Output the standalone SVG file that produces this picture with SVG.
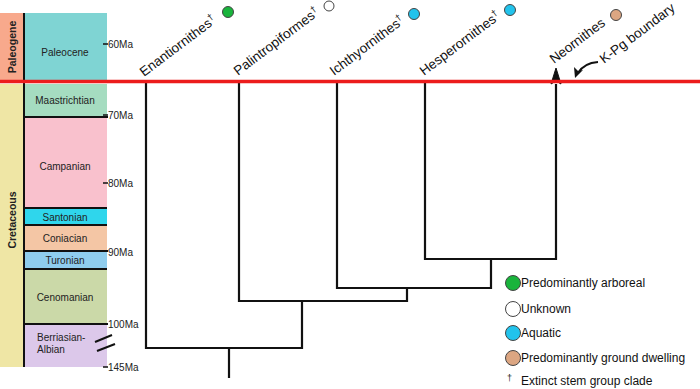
<svg xmlns="http://www.w3.org/2000/svg" width="700" height="389" viewBox="0 0 700 389">
<defs>
<style>
text{font-family:"Liberation Sans",Arial,sans-serif;fill:#222}
.st{font-size:10px;text-anchor:middle}
.stl{font-size:10px}
.ma{font-size:10px}
.per{font-size:10.5px;font-weight:bold;text-anchor:middle}
.tax{font-size:13.5px;fill:#111}
.leg{font-size:12px;fill:#111}
.sep{stroke:#111;stroke-width:2}
.tree{fill:none;stroke:#111;stroke-width:2.2}
.dot{stroke:#444;stroke-width:1}
</style>
<marker id="ah" viewBox="0 0 10 10" refX="9" refY="5" markerWidth="5" markerHeight="5" orient="auto" markerUnits="strokeWidth">
<path d="M0,0 L10,5 L0,10 L3,5 z" fill="#111"/>
</marker>
</defs>
<rect width="700" height="389" fill="#fff"/>

<g id="timescale">
<g id="periods">
<rect x="0" y="13" width="24" height="67" fill="#f8a98c"/>
<text class="per" transform="translate(16,47) rotate(-90)">Paleogene</text>
<rect x="0" y="84" width="24" height="283" fill="#efe6a5"/>
<text class="per" transform="translate(16,220) rotate(-90)">Cretaceous</text>
</g>
<g id="stages">
<rect x="25" y="13" width="82" height="67" fill="#7fd4d3"/>
<text class="st" x="65" y="56">Paleocene</text>
<rect x="25" y="84" width="82" height="33" fill="#a5dcc0"/>
<text class="st" x="65" y="104">Maastrichtian</text>
<rect x="25" y="118" width="82" height="90" fill="#f9c1cd"/>
<text class="st" x="65" y="170">Campanian</text>
<rect x="25" y="208" width="82" height="17" fill="#2fd6ec"/>
<text class="st" x="65" y="221">Santonian</text>
<rect x="25" y="225" width="82" height="26" fill="#f4c6a5"/>
<text class="st" x="65" y="242">Coniacian</text>
<rect x="25" y="251" width="82" height="18" fill="#8fcdee"/>
<text class="st" x="65" y="264">Turonian</text>
<rect x="25" y="269" width="82" height="55" fill="#cbd9a8"/>
<text class="st" x="65" y="301">Cenomanian</text>
<rect x="25" y="324" width="82" height="43" fill="#dcc8ea"/>
<text class="stl" x="37" y="341">Berriasian-</text>
<text class="stl" x="37" y="353">Albian</text>
</g>
<line class="sep" x1="24" y1="13" x2="24" y2="367"/>
<line class="sep" x1="25" y1="117" x2="108" y2="117"/>
<line class="sep" x1="25" y1="208" x2="107" y2="208"/>
<line class="sep" x1="25" y1="225" x2="107" y2="225"/>
<line class="sep" x1="25" y1="251" x2="108" y2="251"/>
<line class="sep" x1="25" y1="269" x2="107" y2="269"/>
<line class="sep" x1="25" y1="324" x2="108" y2="324"/>
<g id="ticks" stroke="#111" stroke-width="1.5">
<line x1="103" y1="44" x2="108" y2="44"/>
<line x1="103" y1="115" x2="108" y2="115"/>
<line x1="103" y1="183" x2="108" y2="183"/>
<line x1="103" y1="367" x2="108" y2="367"/>
</g>
<text class="ma" x="108" y="48">60Ma</text>
<text class="ma" x="108" y="119">70Ma</text>
<text class="ma" x="108" y="187">80Ma</text>
<text class="ma" x="108" y="256">90Ma</text>
<text class="ma" x="108" y="328">100Ma</text>
<text class="ma" x="108" y="371">145Ma</text>
<g id="break" stroke="#111" stroke-width="2">
<line x1="95" y1="342" x2="112" y2="335"/>
<line x1="97" y1="351" x2="115" y2="344"/>
</g>
</g>

<g id="connectors">
<path class="tree" d="M146,83 V348 H302 V301"/>
<path class="tree" d="M229,348 V378"/>
<path class="tree" d="M239,83 V301 H407 V288"/>
<path class="tree" d="M337,83 V288 H491 V259"/>
<path class="tree" d="M425,83 V259 H556 V84"/>
<path d="M556,68 L561,84 L556,81 L551,84 Z" fill="#111" stroke="#111" stroke-width="1"/>
<path d="M598,62 Q584,63 578,73" fill="none" stroke="#111" stroke-width="2.2"/>
<path d="M575,78 L574,67 L578,71 L583,70 Z" fill="#111"/>
</g>

<line id="kpg-line" x1="0" y1="81.5" x2="700" y2="81.5" stroke="#ec1c1c" stroke-width="3.5"/>

<g id="enantiornithes">
<text class="tax" transform="translate(144,77) rotate(-37)">Enantiornithes<tspan font-size="9" dy="-5">†</tspan></text>
<circle class="dot" cx="228" cy="12" r="5.5" fill="#19b43c"/>
</g>
<g id="palintropiformes">
<text class="tax" transform="translate(238,76) rotate(-37)">Palintropiformes<tspan font-size="9" dy="-5">†</tspan></text>
<circle class="dot" cx="329" cy="6" r="5" fill="#fff"/>
</g>
<g id="ichthyornithes">
<text class="tax" transform="translate(334,76) rotate(-37)">Ichthyornithes<tspan font-size="9" dy="-5">†</tspan></text>
<circle class="dot" cx="414" cy="14" r="5.5" fill="#22c3ec"/>
</g>
<g id="hesperornithes">
<text class="tax" transform="translate(424,76) rotate(-37)">Hesperornithes<tspan font-size="9" dy="-5">†</tspan></text>
<circle class="dot" cx="510" cy="10" r="5.5" fill="#22c3ec"/>
</g>
<g id="neornithes">
<text class="tax" transform="translate(554,64) rotate(-37)">Neornithes</text>
<circle class="dot" cx="616" cy="15" r="5.5" fill="#dca682"/>
</g>
<g id="kpg-label">
<text class="tax" transform="translate(604,64) rotate(-37)">K-Pg boundary</text>
</g>

<g id="legend">
<circle class="dot" cx="513" cy="283" r="7.5" fill="#19b43c"/>
<text class="leg" x="521" y="287">Predominantly arboreal</text>
<circle class="dot" cx="513" cy="309" r="7.5" fill="#fff"/>
<text class="leg" x="521" y="313">Unknown</text>
<circle class="dot" cx="513" cy="333" r="7.5" fill="#22c3ec"/>
<text class="leg" x="521" y="337">Aquatic</text>
<circle class="dot" cx="513" cy="358" r="7.5" fill="#dca682"/>
<text class="leg" x="521" y="362">Predominantly ground dwelling</text>
<text x="507" y="381" font-size="9" fill="#111">†</text>
<text class="leg" x="521" y="385">Extinct stem group clade</text>
</g>
</svg>
